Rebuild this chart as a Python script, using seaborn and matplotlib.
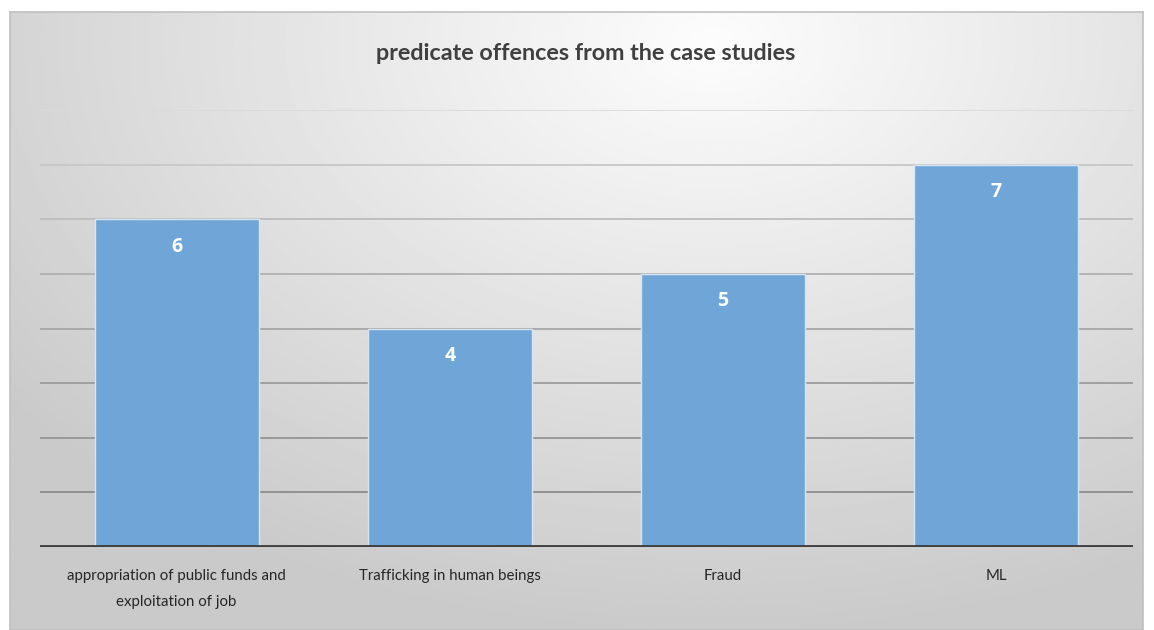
import numpy as np
import pandas as pd
import matplotlib
matplotlib.use("Agg")
import matplotlib.pyplot as plt
import seaborn as sns

# data
categories = ["appropriation of public funds and\nexploitation of job",
              "Trafficking in human beings", "Fraud", "ML"]
counts = [6, 4, 5, 7]
title = "predicate offences from the case studies"

df = pd.DataFrame({"offence": categories, "count": counts})

sns.set_theme(style="white")
plt.rcParams["font.family"] = ["Lato", "DejaVu Sans"]

W, H = 1154, 630
fig = plt.figure(figsize=(W / 100, H / 100), dpi=100)
fig.patch.set_facecolor("white")

# gradient background panel with a grey border
bg = fig.add_axes([10 / W, 0, (1143 - 10) / W, (630 - 12) / H])
yy, xx = np.mgrid[0:1:300j, 0:1:600j]
r = np.sqrt(((xx - 0.62) * 1.1) ** 2 + ((yy - 0.05) * 0.9) ** 2)
shade = np.clip(0.99 - 0.23 * r, 0.79, 1.0)
bg.imshow(shade, cmap="gray", vmin=0, vmax=1, aspect="auto",
          extent=[0, 1, 0, 1], origin="upper")
bg.set_xticks([])
bg.set_yticks([])
for s in bg.spines.values():
    s.set_color("#c0c0c0")
    s.set_linewidth(1.2)

ax = fig.add_axes([40 / W, (630 - 547) / H, (1133 - 40) / W, (547 - 110) / H])
ax.patch.set_alpha(0)

# gridlines get darker towards the bottom
grid_cols = {1: "#8c8c8c", 2: "#959595", 3: "#9c9c9c", 4: "#a6a6a6",
             5: "#b0b0b0", 6: "#bcbcbc", 7: "#c8c8c8", 8: "#dadada"}
for v, c in grid_cols.items():
    ax.axhline(v, color=c, lw=1.3, zorder=0)

sns.barplot(data=df, x="offence", y="count", color="#6fa5d7", saturation=1,
            width=0.6, edgecolor="#d6e6f5", linewidth=1.0, ax=ax, zorder=2)

for i, v in enumerate(counts):
    ax.text(i, v - 0.5, str(v), ha="center", va="center", color="white",
            fontsize=14, fontweight="bold", family=["Open Sans", "DejaVu Sans"],
            zorder=3)

ax.axhline(0, color="#404040", lw=3.5, zorder=4)
ax.set_ylim(0, 8)
ax.set_xlim(-0.5, 3.5)
ax.set_yticks([])
ax.set_xlabel("")
ax.set_ylabel("")
ax.tick_params(axis="x", length=0, pad=16)
ax.set_xticks(range(len(categories)))
ax.set_xticklabels(categories, fontsize=10.8, color="#262626",
                   linespacing=2.1, va="top")
for s in ax.spines.values():
    s.set_visible(False)

fig.text(586 / W, 1 - 53 / H, title, ha="center", va="center",
         fontsize=16.8, fontweight="bold", color="#404040")

fig.savefig("out.png", dpi=100)
